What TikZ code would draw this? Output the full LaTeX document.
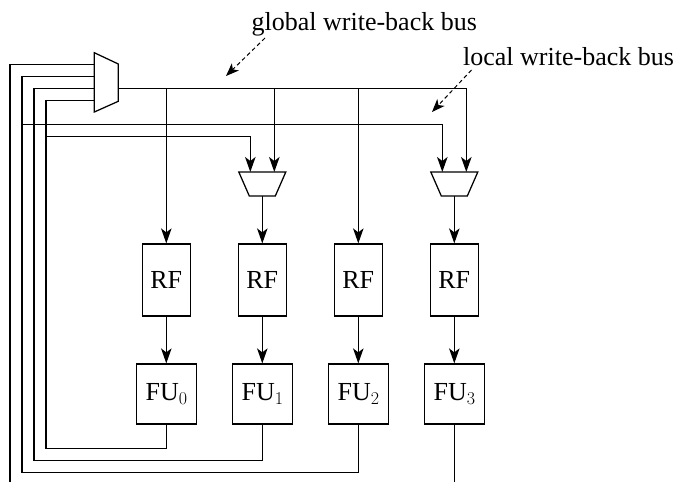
\documentclass[tikz,border=0pt]{standalone}
\usepackage[no-math]{fontspec}
\setmainfont{Liberation Serif}
\newfontfamily\subfont{Latin Modern Roman}
\newcommand{\idx}[1]{\raisebox{-4.5pt}{\fontsize{18}{18}\subfont #1}}
\usetikzlibrary{arrows.meta}

\begin{document}
\begin{tikzpicture}[x=1pt,y=-1pt,line width=1.25pt,
  feed/.style={-{Stealth[length=15pt,width=10.5pt,inset=4pt]}},
  rfbox/.style={draw,minimum width=48pt,minimum height=72pt,inner sep=0pt,font=\fontsize{26}{30}\selectfont},
  fubox/.style={draw,minimum width=60pt,minimum height=60pt,inner sep=0pt,font=\fontsize{26}{30}\selectfont},
  lbl/.style={inner sep=0pt,font=\fontsize{26}{30}\selectfont},
  pointer/.style={dash pattern=on 4pt off 3pt,line width=1pt,-{Stealth[length=13pt,width=10pt,inset=3.5pt]}}
]
\useasboundingbox (0,0) rectangle (679,482);

% register files and functional units, one column per cluster
\foreach \i/\x in {0/166.3,1/262.3,2/358.3,3/454.3}{
  \node[rfbox] (rf\i) at (\x,280) {RF};
  \node[fubox] (fu\i) at (\x,394) {FU\idx{\i}};
  \draw[feed] (rf\i.south) -- (fu\i.north);
}

% global write-back multiplexer
\draw (94.3,52.7) -- (118.3,64) -- (118.3,101.3) -- (94.3,112) -- cycle;
\coordinate (gin0) at (94.3,64.3);
\coordinate (gin1) at (94.3,76.3);
\coordinate (gin2) at (94.3,88.3);
\coordinate (gin3) at (94.3,100.3);
\coordinate (gout) at (118.3,88.3);

% local multiplexers in front of RF1 and RF3
\foreach \i/\x in {1/262.3,3/454.3}{
  \draw (\x-23.5,172) -- (\x+23.5,172) -- (\x+13,196) -- (\x-13,196) -- cycle;
  \coordinate (m\i l) at (\x-12,172);
  \coordinate (m\i r) at (\x+12,172);
  \coordinate (m\i o) at (\x,196);
  \draw[feed] (m\i o) -- (rf\i.north);
}

% global write-back bus
\draw[feed] (gout) -| (m3r);
\draw[feed] (rf0.north |- gout) -- (rf0.north);
\draw[feed] (m1r |- gout) -- (m1r);
\draw[feed] (rf2.north |- gout) -- (rf2.north);

% results returned from the functional units
\coordinate (r0) at (46,448.3);
\coordinate (r1) at (34,460.3);
\coordinate (r2) at (22,472.3);
\coordinate (r3) at (10,482);
\coordinate (fu3end) at (454.3,482);
\draw (fu0.south) |- (r0) |- (gin3);
\draw (fu1.south) |- (r1) |- (gin2);
\draw (fu2.south) |- (r2) |- (gin1);
\draw (r3) |- (gin0);
\draw (fu3.south) -- (fu3end);

% local write-back buses
\coordinate (b0) at (46,136.3);
\coordinate (b2) at (22,124.3);
\draw[feed] (b0) -| (m1l);
\draw[feed] (b2) -| (m3l);

% annotations
\node[lbl,anchor=base west] (glbl) at (251,30) {global write-back bus};
\node[lbl,anchor=base west] (llbl) at (462.5,65) {local write-back bus};
\coordinate (gtip) at (226,76);
\coordinate (ltip) at (432,112);
\draw[pointer] (265,38) -- (gtip);
\draw[pointer] (471.5,70) -- (ltip);
\end{tikzpicture}
\end{document}
